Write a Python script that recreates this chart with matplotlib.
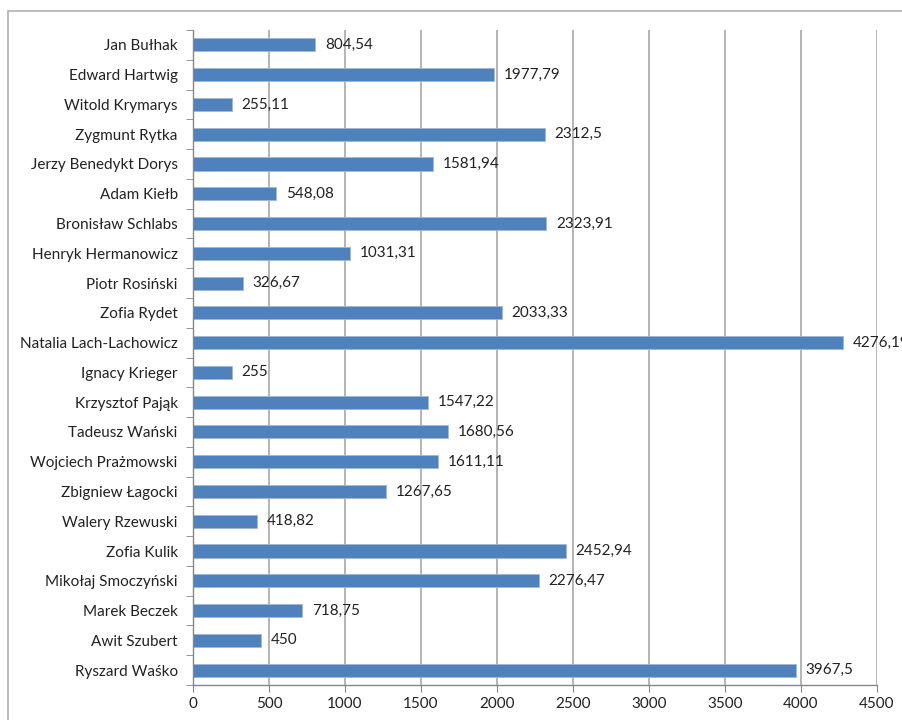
import numpy as np
import matplotlib.pyplot as plt
from matplotlib.patches import Rectangle

plt.rcParams['font.family'] = ['Lato', 'DejaVu Sans']

# names from top to bottom, with the value labels as printed
names = ['Jan Bułhak', 'Edward Hartwig', 'Witold Krymarys', 'Zygmunt Rytka',
         'Jerzy Benedykt Dorys', 'Adam Kiełb', 'Bronisław Schlabs',
         'Henryk Hermanowicz', 'Piotr Rosiński', 'Zofia Rydet',
         'Natalia Lach-Lachowicz', 'Ignacy Krieger', 'Krzysztof Pająk',
         'Tadeusz Wański', 'Wojciech Prażmowski', 'Zbigniew Łagocki',
         'Walery Rzewuski', 'Zofia Kulik', 'Mikołaj Smoczyński',
         'Marek Beczek', 'Awit Szubert', 'Ryszard Waśko']
labels = ['804,54', '1977,79', '255,11', '2312,5', '1581,94', '548,08',
          '2323,91', '1031,31', '326,67', '2033,33', '4276,19', '255',
          '1547,22', '1680,56', '1611,11', '1267,65', '418,82', '2452,94',
          '2276,47', '718,75', '450', '3967,5']
values = [float(s.replace(',', '.')) for s in labels]
xticks = np.arange(0, 4501, 500)

fig = plt.figure(figsize=(9.02, 7.2), dpi=100)
# chart frame, runs off the right and bottom edges
fig.patches.append(Rectangle((8 / 902, -0.05), 1.2, 1 - 11 / 720 + 0.05,
                             transform=fig.transFigure, fill=False,
                             edgecolor='#b0b0b0', linewidth=1.2))

ax = fig.add_axes([193 / 902, 35 / 720, (877 - 193) / 902, (690 - 35) / 720])
ax.set_axisbelow(True)

y = np.arange(len(names))
ax.barh(y, values, height=0.44, color='#4f81bd', edgecolor='#9fb8d8',
        linewidth=0.6)
for yi, v, s in zip(y, values, labels):
    ax.annotate(s, (v, yi), xytext=(7, 0), textcoords='offset points',
                va='center', ha='left', fontsize=11, color='#222222',
                annotation_clip=False)

ax.set_ylim(len(names) - 0.5, -0.5)
ax.set_xlim(0, 4500)
ax.set_xticks(xticks)
ax.set_yticks(y)
ax.set_yticklabels(names)
ax.set_yticks(np.arange(-0.5, len(names), 1), minor=True)
ax.tick_params(axis='y', which='major', length=0, pad=11, labelsize=11,
               labelcolor='#222222')
ax.tick_params(axis='y', which='minor', length=5, color='#868686',
               direction='out')
ax.tick_params(axis='x', length=5, color='#868686', labelsize=11,
               labelcolor='#222222', pad=4)
ax.xaxis.grid(True, color='#a0a0a0', linewidth=1.1)

for side in ['top', 'right']:
    ax.spines[side].set_visible(False)
for side in ['left', 'bottom']:
    ax.spines[side].set_color('#868686')
    ax.spines[side].set_linewidth(1.0)

fig.savefig('out.png', dpi=100)
